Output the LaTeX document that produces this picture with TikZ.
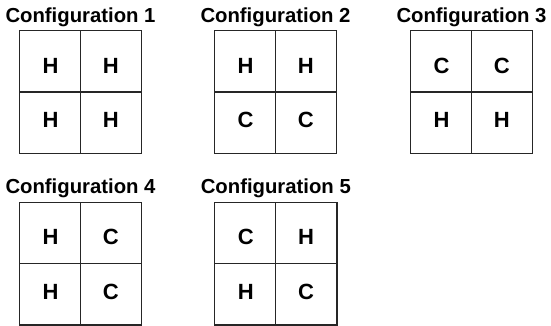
\documentclass[tikz,border=0pt]{standalone}
\usepackage{fontspec}
\setmainfont{Liberation Sans}

% One 2x2 configuration: #1 number, #2 left edge, #3 top edge, #4..#7 cell letters (nw, ne, sw, se)
\newcommand\drawconfig[7]{%
  \node[cfgtitle] (cfg#1-title) at (#2+61.5, #3-8.5) {Configuration #1};
  \node[cellbox] (cfg#1-nw) at (#2+30.7, #3+30.7) {};
  \node[cellbox] (cfg#1-ne) at (#2+92.0, #3+30.7) {};
  \node[cellbox] (cfg#1-sw) at (#2+30.7, #3+92.0) {};
  \node[cellbox] (cfg#1-se) at (#2+92.0, #3+92.0) {};
  \node[letter] (cfg#1-nwt) at (#2+31.5, #3+35.0) {#4};
  \node[letter] (cfg#1-net) at (#2+91.7, #3+35.0) {#5};
  \node[letter] (cfg#1-swt) at (#2+31.5, #3+89.5) {#6};
  \node[letter] (cfg#1-set) at (#2+91.7, #3+89.5) {#7};
}

\begin{document}
\begin{tikzpicture}[x=1pt, y=-1pt,
  cellbox/.style={draw=black!85, line width=1.1pt, minimum size=61.3pt, inner sep=0pt, outer sep=0pt},
  letter/.style={font=\fontsize{22}{22}\selectfont\bfseries, inner sep=0pt},
  cfgtitle/.style={font=\fontsize{20.3}{20.3}\selectfont\bfseries, anchor=base, inner sep=0pt}]
  \useasboundingbox (0,0) rectangle (551,326);

  \drawconfig{1}{19}{30.7}{H}{H}{H}{H}
  \drawconfig{2}{214}{30.7}{H}{H}{C}{C}
  \drawconfig{3}{410}{30.7}{C}{C}{H}{H}
  \drawconfig{4}{19}{202.3}{H}{C}{H}{C}
  \drawconfig{5}{214.3}{202.3}{C}{H}{H}{C}
\end{tikzpicture}
\end{document}
